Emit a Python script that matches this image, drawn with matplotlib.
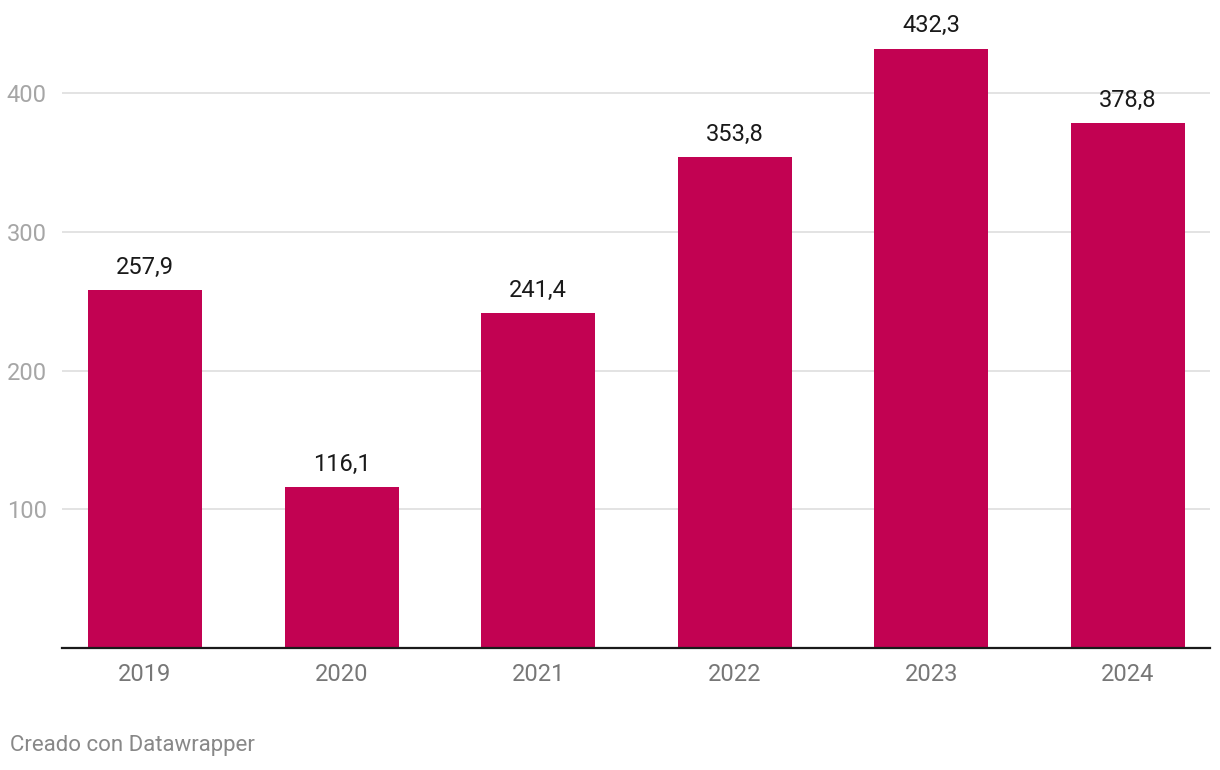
import matplotlib.pyplot as plt

years = ["2019", "2020", "2021", "2022", "2023", "2024"]
values = [257.9, 116.1, 241.4, 353.8, 432.3, 378.8]
yticks = [100, 200, 300, 400]

plt.rcParams["font.family"] = ["Roboto", "DejaVu Sans"]

fig = plt.figure(figsize=(12.2, 7.7), dpi=100)
ax = fig.add_axes([62 / 1220, 122 / 770, 1148 / 1220, 624 / 770])

x = range(len(years))
bars = ax.bar(x, values, width=0.58, color="#c20252", zorder=2)

for xi, v in zip(x, values):
    ax.annotate(f"{v:.1f}".replace(".", ","), (xi, v), xytext=(0, 8),
                textcoords="offset points", ha="center", va="bottom",
                fontsize=17, color="#1a1a1a")

ax.set_xlim(-0.422, 5.417)
ax.set_ylim(0, 450)
ax.set_yticks(yticks)
ax.set_yticklabels([str(t) for t in yticks])
ax.set_xticks(list(x))
ax.set_xticklabels(years)

ax.grid(axis="y", color="#e1e1e1", linewidth=1.3, zorder=0)
ax.tick_params(axis="y", length=0, pad=11, labelsize=17, labelcolor="#a6a6a6")
ax.tick_params(axis="x", length=0, pad=11, labelsize=17, labelcolor="#777777")
for side in ["top", "right", "left"]:
    ax.spines[side].set_visible(False)
ax.spines["bottom"].set_color("#1a1a1a")
ax.spines["bottom"].set_linewidth(1.6)
ax.spines["bottom"].set_zorder(3)

fig.text(10 / 1220, 1 - 746 / 770, "Creado con Datawrapper", ha="left", va="center",
         fontsize=16, color="#888888")

fig.savefig("out.png", dpi=100)
